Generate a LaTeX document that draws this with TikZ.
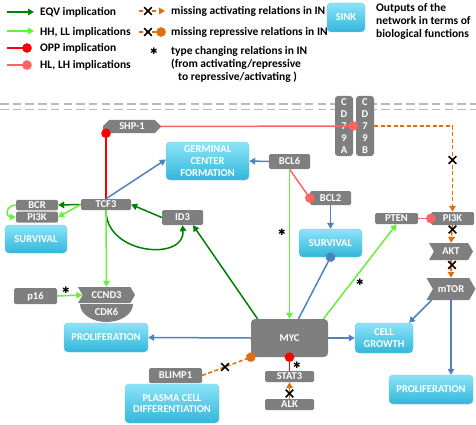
\documentclass[tikz,border=0pt]{standalone}
\usepackage{fontspec}
\setmainfont{Carlito}
\newfontfamily\symfont{DejaVu Sans}
\usetikzlibrary{arrows.meta,shapes.misc,shapes.symbols}
\definecolor{dgreen}{RGB}{0,128,0}
\definecolor{lgreen}{RGB}{102,240,60}
\definecolor{redA}{RGB}{255,0,0}
\definecolor{salmon}{RGB}{255,100,100}
\definecolor{orng}{RGB}{228,108,10}
\definecolor{blu}{RGB}{79,129,189}
\definecolor{gbx}{RGB}{127,127,127}
\definecolor{sinktop}{RGB}{140,228,248}
\definecolor{sinkbot}{RGB}{50,182,218}
\definecolor{sinkline}{RGB}{110,200,230}
\definecolor{dashgray}{RGB}{185,185,185}
\begin{document}
\begin{tikzpicture}[x=1pt,y=-1pt,
 gbase/.style={fill=gbx, rounded corners=1.5pt, text=white, font=\bfseries\fontsize{10.5}{11.8}\selectfont, inner sep=0pt},
 gbox/.style={gbase, text height=6.8pt, text depth=0pt},
 sink/.style={top color=sinktop, bottom color=sinkbot, draw=sinkline, rounded corners=4pt, text=white, font=\bfseries\fontsize{10.5}{11.8}\selectfont, align=center, inner sep=0pt},
 hexa/.style={gbox, shape=signal, signal from=west, signal to=east, signal pointer angle=120, rounded corners=0pt},
 lg/.style={font=\bfseries\fontsize{11.5}{13}\selectfont, anchor=west, inner sep=0pt},
 conn/.style={line width=1.5pt},
 tip/.style={-{Triangle[length=6pt,width=6.5pt]}},
 dot/.style={-{Circle[length=9.5pt]}, shorten >=-4.75pt},
 eqv/.style={conn, draw=dgreen, tip},
 hhll/.style={conn, draw=lgreen, tip},
 opp/.style={conn, draw=redA, dot},
 hllh/.style={conn, draw=salmon, dot},
 actb/.style={conn, draw=blu, tip},
 repb/.style={conn, draw=blu, dot},
 mact/.style={conn, draw=orng, dash pattern=on 4pt off 2.5pt, tip},
 mrep/.style={conn, draw=orng, dash pattern=on 4pt off 2.5pt, dot},
 xm/.style={shape=cross out, draw=black, line width=1.6pt, minimum size=6pt, inner sep=0pt},
 ast/.style={inner sep=0pt, font=\symfont\fontsize{9}{9}\selectfont},
]
\useasboundingbox (0,0) rectangle (476,425);

% ---------------- legend ----------------
\coordinate (l1a) at (7,12);  \coordinate (l1b) at (34,12);
\coordinate (l2a) at (7,31);  \coordinate (l2b) at (34,31);
\coordinate (l3a) at (7,48);  \coordinate (l3b) at (27,48);
\coordinate (l4a) at (7,65);  \coordinate (l4b) at (27,65);
\draw[eqv] (l1a) -- (l1b);
\draw[hhll] (l2a) -- (l2b);
\draw[opp] (l3a) -- (l3b);
\draw[hllh] (l4a) -- (l4b);
\node[lg] (lt1) at (40,12) {EQV implication};
\node[lg] (lt2) at (40,32) {HH, LL implications};
\node[lg] (lt3) at (40,48) {OPP implication};
\node[lg] (lt4) at (40,65) {HL, LH implications};

\coordinate (m1a) at (139,11); \coordinate (m1b) at (165,11);
\coordinate (m2a) at (139,32); \coordinate (m2b) at (161,32);
\draw[mact] (m1a) -- (m1b);
\draw[mrep] (m2a) -- (m2b);
\node[xm] (lx1) at (148,11) {};
\node[xm] (lx2) at (148,32) {};
\node[ast] (las) at (154,51) {✱};
\node[lg] (mt1) at (171,11) {missing activating relations in IN};
\node[lg] (mt2) at (171,32) {missing repressive relations in IN};
\node[lg] (mt3) at (171,51) {type changing relations in IN};
\node[lg] (mt4) at (171,64) {(from activating/repressive};
\node[lg] (mt5) at (178,77) {to repressive/activating )};

\node[sink, minimum width=38pt, minimum height=29pt] (sinkl) at (346,17.5) {SINK};
\node[lg, align=left, font=\bfseries\fontsize{11.5}{12.7}\selectfont] (rt) at (376,21.5) {Outputs of the\\network in terms of\\biological functions};

% ---------------- membrane ----------------
\draw[dashgray, line width=1.8pt, dash pattern=on 8.5pt off 4.2pt] (0,104) -- (476,104);
\draw[dashgray, line width=1.8pt, dash pattern=on 8.5pt off 4.2pt] (0,109.5) -- (476,109.5);

% ---------------- nodes ----------------
\node[gbase, rounded corners=3pt, minimum width=18pt, minimum height=60pt, align=center] (cd79a) at (344,126) {C\\D\\7\\9\\A};
\node[gbase, rounded corners=3pt, minimum width=18pt, minimum height=60pt, align=center] (cd79b) at (365,126) {C\\D\\7\\9\\B};
\node[gbox, shape=chamfered rectangle, chamfered rectangle corners={north west,north east,south east}, chamfered rectangle xsep=3pt, rounded corners=0pt, minimum width=58pt, minimum height=13pt] (shp1) at (132,126.5) {SHP-1};

\node[sink, minimum width=83pt, minimum height=38pt] (gcf) at (207.5,161) {GERMINAL\\CENTER\\FORMATION};
\node[gbox, minimum width=41pt, minimum height=15pt] (bcl6) at (289.5,161.5) {BCL6};
\node[gbox, minimum width=41pt, minimum height=14pt] (bcl2) at (330.5,198) {BCL2};
\node[sink, minimum width=63pt, minimum height=28pt] (survm) at (330.5,243) {SURVIVAL};

\node[gbox, minimum width=42pt, minimum height=10.5pt] (bcr) at (37,205) {BCR};
\node[gbox, minimum width=42pt, minimum height=11pt] (pi3kl) at (37,217) {PI3K};
\node[gbox, minimum width=50pt, minimum height=11pt] (tcf3) at (106,204.5) {TCF3};
\node[sink, minimum width=62pt, minimum height=28pt] (survl) at (36,239) {SURVIVAL};
\node[gbox, minimum width=41pt, minimum height=15pt] (id3) at (182.5,217.5) {ID3};

\node[gbox, minimum width=43pt, minimum height=11pt] (pten) at (396.5,218.5) {PTEN};
\node[gbox, minimum width=43pt, minimum height=13pt] (pi3kr) at (452.5,218.5) {PI3K};
\node[hexa, minimum width=44pt, minimum height=17pt] (akt) at (451,251.5) {AKT};
\node[hexa, minimum width=49pt, minimum height=22pt] (mtor) at (451,289) {mTOR};

\node[gbox, minimum width=43pt, minimum height=16pt] (p16) at (35.5,296) {p16};
\fill[gbx] (80,304) -- (133,304) arc[start angle=0, end angle=180, x radius=26.5, y radius=18] -- cycle;
\node[inner sep=0pt, text=white, font=\bfseries\fontsize{10.5}{11}\selectfont] (cdk6) at (106.5,312) {CDK6};
\node[hexa, minimum width=57pt, minimum height=16pt] (ccnd3) at (106.5,295) {CCND3};
\node[sink, minimum width=84pt, minimum height=29pt] (prol) at (106,337.5) {PROLIFERATION};

\node[gbox, rounded corners=4pt, minimum width=77pt, minimum height=38pt] (myc) at (289.5,338) {MYC};
\node[sink, minimum width=58pt, minimum height=30pt] (cg) at (384,338) {CELL\\GROWTH};
\node[sink, minimum width=84pt, minimum height=29pt] (prolr) at (431,389.5) {PROLIFERATION};
\node[gbox, minimum width=49pt, minimum height=11pt] (stat3) at (289.5,376.5) {STAT3};
\node[gbox, minimum width=49pt, minimum height=11pt] (alk) at (289.5,404.5) {ALK};
\node[gbox, minimum width=53pt, minimum height=15pt] (blimp1) at (175.5,375.5) {BLIMP1};
\node[sink, minimum width=94pt, minimum height=39pt] (pcd) at (172,403.5) {PLASMA CELL\\DIFFERENTIATION};

% ---------------- connectors ----------------
\draw[hllh] (shp1.east) -- (cd79a.east);
\draw[mact] (cd79b.east) -| (pi3kr.north);
\node[xm] (x1) at (452.5,160) {};
\draw[mact] (pi3kr.south) -- (akt.north);
\node[xm] (x2) at (452.5,229.5) {};
\draw[mact] (akt.south) -- (mtor.north);
\node[xm] (x3) at (452,265) {};
\draw[hllh] (pten.east) -- (pi3kr.west);

\draw[opp] (tcf3.north) -- (tcf3.north |- shp1.south);
\draw[actb] (tcf3.north) -- ([yshift=1.5pt]gcf.west);
\draw[eqv] (tcf3.west) -- (bcr.east);
\draw[hhll] (tcf3.west) -- (pi3kl.east);
\draw[hhll] (bcr.west) to[out=180, in=180, looseness=2.2] (pi3kl.west);
\draw[eqv] (id3.west) -- (tcf3.east);
\draw[eqv] (tcf3.south) .. controls +(0,45) and +(3,36) .. (id3.south);
\draw[hhll] (tcf3.south) -- (ccnd3.north);
\draw[hhll] (p16.east) -- (ccnd3.west);
\node[ast] (s1) at (66,290) {✱};

\draw[actb] (bcl6.west) -- (gcf.east);
\draw[hllh] (bcl6.south) -- (bcl2.west);
\draw[actb] (bcl2.south) -- (survm.north);
\draw[hhll] (bcl6.south) -- (myc.north);
\node[ast] (s2) at (282,232) {✱};
\draw[repb] ([xshift=9pt]myc.north) -- (survm.south);
\draw[hhll] ([xshift=34pt]myc.north) -- (pten.south);
\node[ast] (s3) at (360,282) {✱};
\draw[eqv] ([xshift=-32pt]myc.north) -- ([xshift=10.5pt]id3.south);

\draw[actb] (myc.east) -- (cg.west);
\draw[actb] (myc.west) -- (prol.east);
\draw[actb] ([xshift=-19.5pt]mtor.south) -- ([xshift=25pt]cg.north);
\draw[actb] (mtor.south) -- (mtor.south |- prolr.north);

\draw[mrep] (blimp1.east) -- (myc.south west);
\node[xm] (x4) at (225,367) {};
\draw[opp] (stat3.north) -- (myc.south);
\node[ast] (s4) at (297,365) {✱};
\draw[mact] (alk.north) -- (stat3.south);
\node[xm] (x5) at (289.5,393.5) {};
\end{tikzpicture}
\end{document}
